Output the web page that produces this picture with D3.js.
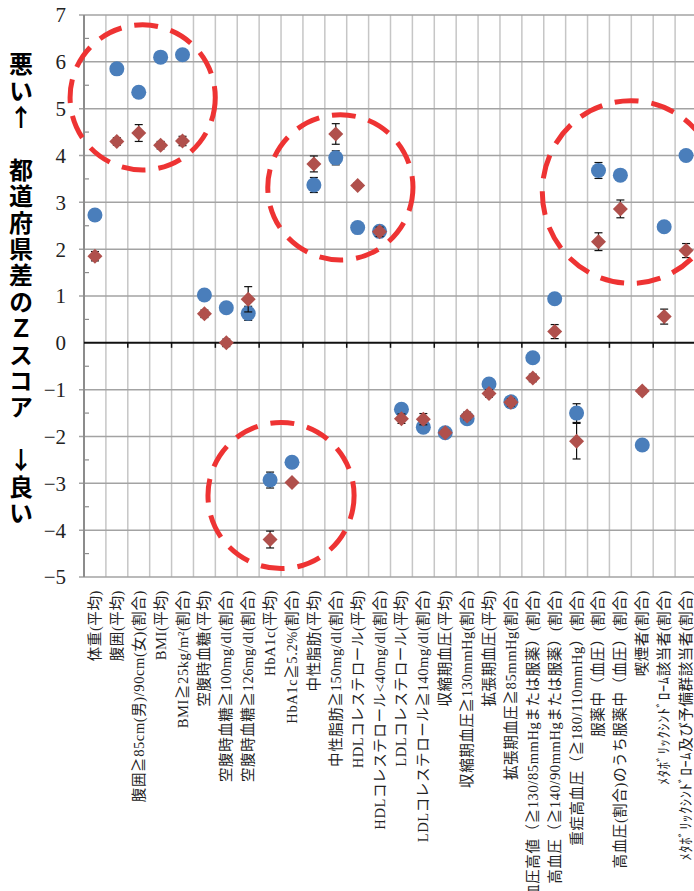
<!DOCTYPE html>
<html>
<head>
<meta charset="utf-8">
<script src="https://cdn.jsdelivr.net/npm/d3@7"></script>
<style>
  body { margin: 0; background: #fff; }
  svg { display: block; }
</style>
</head>
<body>
<div id="chart"></div>
<script>
// categories (x axis)
var categories = [
  "体重(平均)", "腹囲(平均)", "腹囲≧85cm(男)/90cm(女)(割合)", "BMI(平均)", "BMI≧25kg/m²(割合)",
  "空腹時血糖(平均)", "空腹時血糖≧100mg/dl(割合)", "空腹時血糖≧126mg/dl(割合)", "HbA1c(平均)", "HbA1c≧5.2%(割合)",
  "中性脂肪(平均)", "中性脂肪≧150mg/dl(割合)", "HDLコレステロール(平均)", "HDLコレステロール<40mg/dl(割合)",
  "LDLコレステロール(平均)", "LDLコレステロール≧140mg/dl(割合)", "収縮期血圧(平均)", "収縮期血圧≧130mmHg(割合)",
  "拡張期血圧(平均)", "拡張期血圧≧85mmHg(割合)", "血圧高値（≧130/85mmHgまたは服薬）(割合)",
  "高血圧（≧140/90mmHgまたは服薬）(割合)", "重症高血圧（≧180/110mmHg）(割合)", "服薬中（血圧）(割合)",
  "高血圧(割合)のうち服薬中（血圧）(割合)", "喫煙者(割合)", "ﾒﾀﾎﾞﾘｯｸｼﾝﾄﾞﾛｰﾑ該当者(割合)",
  "ﾒﾀﾎﾞﾘｯｸｼﾝﾄﾞﾛｰﾑ及び予備群該当者(割合)"
];

// series 1 (blue circles)
var zBlue = [2.73, 5.85, 5.35, 6.10, 6.15, 1.02, 0.75, 0.63, -2.93, -2.55,
             3.37, 3.95, 2.46, 2.38, -1.42, -1.80, -1.92, -1.62, -0.88, -1.26,
             -0.32, 0.94, -1.50, 3.68, 3.58, -2.18, 2.48, 4.00];
var errBlue = [0.04, 0.04, 0.04, 0.04, 0.04, 0.05, 0.05, 0.15, 0.17, 0.05,
               0.16, 0.15, 0.04, 0.08, 0.06, 0.08, 0.04, 0.06, 0.04, 0.04,
               0.04, 0.05, 0.20, 0.17, 0.06, 0.04, 0.05, 0.05];

// series 2 (red diamonds)
var zRed = [1.85, 4.30, 4.48, 4.22, 4.31, 0.62, 0.00, 0.93, -4.20, -2.98,
            3.82, 4.46, 3.36, 2.37, -1.62, -1.63, -1.92, -1.56, -1.08, -1.27,
            -0.75, 0.24, -2.10, 2.16, 2.86, -1.03, 0.56, 1.97];
var errRed = [0.10, 0.08, 0.18, 0.08, 0.10, 0.08, 0.08, 0.27, 0.18, 0.06,
              0.17, 0.22, 0.06, 0.10, 0.10, 0.12, 0.06, 0.08, 0.08, 0.08,
              0.08, 0.15, 0.38, 0.19, 0.19, 0.06, 0.16, 0.15];

// y ticks
var yTicks = [-5, -4, -3, -2, -1, 0, 1, 2, 3, 4, 5, 6, 7];

// annotation circles (center in category units / z units, radius in z units)
var ringCx = [2.68, 11.71, 24.98, 9.0];
var ringCy = [5.24, 3.32, 3.22, -3.26];
var ringR = [1.55, 1.55, 1.95, 1.56];

var width = 694, height = 891;
var margin = {top: 15, right: -3, bottom: 314, left: 84};

var svg = d3.select("#chart").append("svg")
    .attr("width", width)
    .attr("height", height);

var x = d3.scaleBand()
    .domain(categories)
    .range([margin.left, width - margin.right]);

var xu = d3.scaleLinear()
    .domain([0, categories.length])
    .range([margin.left, width - margin.right]);

var y = d3.scaleLinear()
    .domain([-5, 7])
    .range([height - margin.bottom, margin.top]);

var serif = "'Liberation Serif', 'Noto Sans CJK JP', serif";

// vertical grid lines
svg.append("g")
  .selectAll("line")
  .data(d3.range(1, categories.length + 1))
  .enter().append("line")
    .attr("x1", function(d) { return xu(d); })
    .attr("x2", function(d) { return xu(d); })
    .attr("y1", y(7))
    .attr("y2", y(-5))
    .attr("stroke", "#c6c6c6")
    .attr("stroke-width", 1.5);

// horizontal grid lines
svg.append("g")
  .selectAll("line")
  .data(yTicks.filter(function(d) { return d !== 0; }))
  .enter().append("line")
    .attr("x1", margin.left - 5)
    .attr("x2", width)
    .attr("y1", function(d) { return y(d); })
    .attr("y2", function(d) { return y(d); })
    .attr("stroke", "#a3a3a3")
    .attr("stroke-width", 1.5);

// minor ticks on y axis
svg.append("g")
  .selectAll("line")
  .data(d3.range(-4.5, 7, 1))
  .enter().append("line")
    .attr("x1", margin.left)
    .attr("x2", margin.left + 5)
    .attr("y1", function(d) { return y(d); })
    .attr("y2", function(d) { return y(d); })
    .attr("stroke", "#8c8c8c")
    .attr("stroke-width", 1.2);

// y axis line
svg.append("line")
    .attr("x1", margin.left).attr("x2", margin.left)
    .attr("y1", y(7)).attr("y2", y(-5))
    .attr("stroke", "#8c8c8c")
    .attr("stroke-width", 2);

// zero line with ticks
svg.append("line")
    .attr("x1", margin.left).attr("x2", width)
    .attr("y1", y(0)).attr("y2", y(0))
    .attr("stroke", "#111")
    .attr("stroke-width", 2);

svg.append("g")
  .selectAll("line")
  .data(d3.range(2, categories.length + 1, 2))
  .enter().append("line")
    .attr("x1", function(d) { return xu(d); })
    .attr("x2", function(d) { return xu(d); })
    .attr("y1", y(0))
    .attr("y2", y(0) + 5)
    .attr("stroke", "#111")
    .attr("stroke-width", 1.5);

// y tick labels
svg.append("g")
  .selectAll("text")
  .data(yTicks)
  .enter().append("text")
    .attr("x", 66)
    .attr("y", function(d) { return y(d); })
    .attr("dy", "0.35em")
    .attr("text-anchor", "end")
    .attr("font-family", serif)
    .attr("font-size", 21)
    .attr("fill", "#222")
    .text(function(d) { return d < 0 ? "\u2212" + (-d) : d; });

// y axis title, vertical writing
svg.append("text")
    .attr("x", 21)
    .attr("y", 52)
    .attr("font-family", "'Noto Sans CJK JP', sans-serif")
    .attr("font-weight", 700)
    .attr("font-size", 24)
    .attr("fill", "#000")
    .style("writing-mode", "vertical-rl")
    .style("text-orientation", "upright")
    .style("letter-spacing", "2.4px")
    .text("悪い↑　都道府県差のＺスコア　↓良い");

// x labels, rotated
svg.append("g")
  .selectAll("text")
  .data(categories)
  .enter().append("text")
    .attr("transform", function(d) {
      return "translate(" + (x(d) + x.bandwidth() / 2 + 5) + "," + 590 + ") rotate(-90)";
    })
    .attr("text-anchor", "end")
    .attr("font-family", serif)
    .attr("font-size", 14.5)
    .style("letter-spacing", "0.6px")
    .attr("fill", "#222")
    .text(function(d) { return d; });

function cx(i) { return x(categories[i]) + x.bandwidth() / 2; }

function errorBars(values, errs) {
  var g = svg.append("g")
      .attr("stroke", "#111")
      .attr("stroke-width", 1.2);
  values.forEach(function(v, i) {
    var top = y(v + errs[i]), bot = y(v - errs[i]);
    g.append("line").attr("x1", cx(i)).attr("x2", cx(i)).attr("y1", top).attr("y2", bot);
    g.append("line").attr("x1", cx(i) - 4).attr("x2", cx(i) + 4).attr("y1", top).attr("y2", top);
    g.append("line").attr("x1", cx(i) - 4).attr("x2", cx(i) + 4).attr("y1", bot).attr("y2", bot);
  });
}

// blue series
errorBars(zBlue, errBlue);
svg.append("g")
  .selectAll("circle")
  .data(zBlue)
  .enter().append("circle")
    .attr("cx", function(d, i) { return cx(i); })
    .attr("cy", function(d) { return y(d); })
    .attr("r", 7.5)
    .attr("fill", "#4a7ebb");

// red series
errorBars(zRed, errRed);
svg.append("g")
  .selectAll("path")
  .data(zRed)
  .enter().append("path")
    .attr("d", function(d, i) {
      var px = cx(i), py = y(d), s = 7.5;
      return "M" + px + "," + (py - s) + "L" + (px + s) + "," + py +
             "L" + px + "," + (py + s) + "L" + (px - s) + "," + py + "Z";
    })
    .attr("fill", "#b0504c");

// dashed annotation rings
var unitPx = y(0) - y(1);
svg.append("g")
  .selectAll("ellipse")
  .data(ringCx)
  .enter().append("ellipse")
    .attr("cx", function(d) { return xu(d); })
    .attr("cy", function(d, i) { return y(ringCy[i]); })
    .attr("rx", function(d, i) { return ringR[i] * unitPx * (i === 2 ? 0.97 : 1); })
    .attr("ry", function(d, i) { return ringR[i] * unitPx; })
    .attr("fill", "none")
    .attr("stroke", "#ee3333")
    .attr("stroke-width", 5)
    .attr("stroke-dasharray", "24 13");
</script>
</body>
</html>
